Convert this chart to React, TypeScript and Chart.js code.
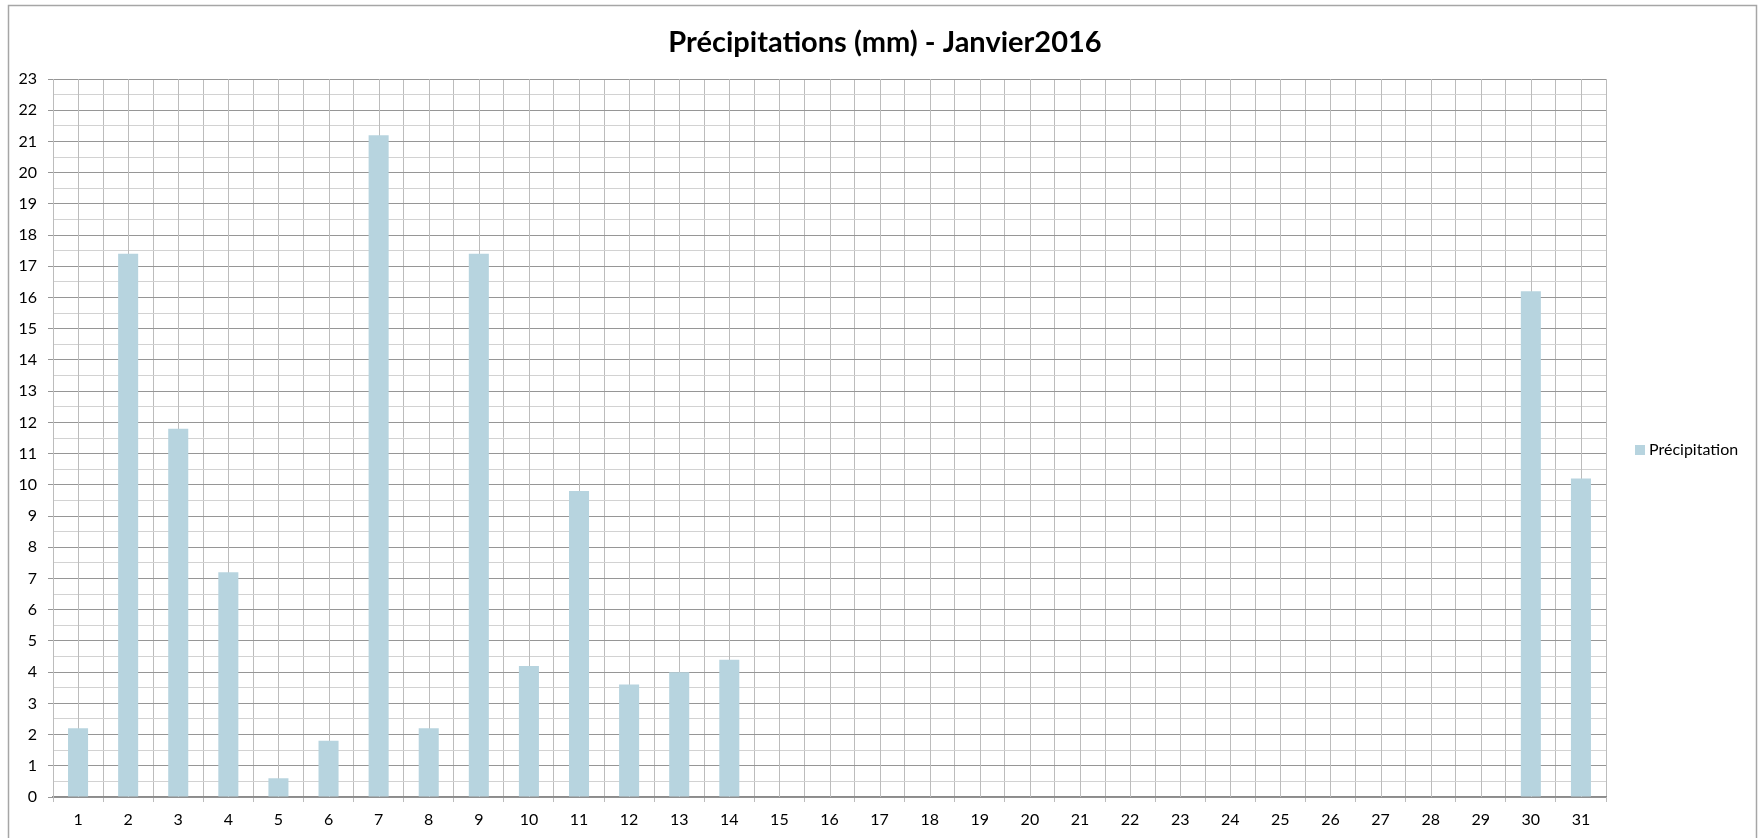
import React, { useEffect, useRef } from 'react';
import { Chart, registerables } from 'chart.js';

Chart.register(...registerables);

const TITLE = 'Précipitations (mm) - Janvier2016';
const SERIES_NAME = 'Précipitation';
const days = Array.from({ length: 31 }, (_, i) => String(i + 1));
const precipitation = [
  2.2, 17.4, 11.8, 7.2, 0.6, 1.8, 21.2, 2.2, 17.4, 4.2,
  9.8, 3.6, 4.0, 4.4, 0, 0, 0, 0, 0, 0,
  0, 0, 0, 0, 0, 0, 0, 0, 0, 16.2, 10.2,
];
const yMin = 0;
const yMax = 23;

const FONT = 'Lato, "Open Sans", "DejaVu Sans", sans-serif';
const BAR_COLOR = '#b7d4df';
const V_GRID = '#bcbcbc';
const H_MAJOR = '#969696';
const H_MINOR = '#d2d2d2';

const decorPlugin = {
  id: 'decor',
  beforeDraw(chart: any) {
    const { ctx, width, height } = chart;
    ctx.save();
    ctx.fillStyle = '#ffffff';
    ctx.fillRect(0, 0, width, height);
    ctx.strokeStyle = '#a6a6a6';
    ctx.lineWidth = 1.5;
    ctx.beginPath();
    ctx.moveTo(8.5, height + 2);
    ctx.lineTo(8.5, 5.5);
    ctx.lineTo(1756.5, 5.5);
    ctx.lineTo(1756.5, height + 2);
    ctx.stroke();
    ctx.restore();
  },
  beforeDatasetsDraw(chart: any) {
    const { ctx, chartArea } = chart;
    const xs = chart.scales.x;
    ctx.save();
    ctx.strokeStyle = V_GRID;
    ctx.lineWidth = 1;
    ctx.beginPath();
    for (let i = 0; i < days.length; i++) {
      const x = Math.round(xs.getPixelForValue(i)) + 0.5;
      ctx.moveTo(x, chartArea.top);
      ctx.lineTo(x, chartArea.bottom);
    }
    ctx.stroke();
    ctx.restore();
  },
  afterDraw(chart: any) {
    const { ctx } = chart;
    ctx.save();
    ctx.fillStyle = '#000000';
    ctx.font = `bold 29px ${FONT}`;
    ctx.textAlign = 'center';
    ctx.textBaseline = 'middle';
    ctx.fillText(TITLE, 885, 43);
    // legend
    ctx.fillStyle = BAR_COLOR;
    ctx.fillRect(1635, 445, 10, 10);
    ctx.fillStyle = '#000000';
    ctx.font = `16px ${FONT}`;
    ctx.textAlign = 'left';
    ctx.fillText(SERIES_NAME, 1649, 450);
    ctx.restore();
  },
};

export default function App() {
  const ref = useRef<HTMLCanvasElement | null>(null);
  useEffect(() => {
    document.body.style.margin = '0';
    document.body.style.overflow = 'hidden';
    const canvas = ref.current;
    if (!canvas) return;
    const chart = new Chart(canvas, {
      type: 'bar',
      data: {
        labels: days,
        datasets: [
          {
            label: SERIES_NAME,
            data: precipitation,
            backgroundColor: BAR_COLOR,
            borderWidth: 0,
            barPercentage: 0.8,
            categoryPercentage: 0.5,
          },
        ],
      },
      options: {
        responsive: false,
        animation: false,
        devicePixelRatio: 1,
        layout: { padding: { top: 79, right: 155, left: 0, bottom: 0 } },
        plugins: {
          legend: { display: false },
          title: { display: false },
          tooltip: { enabled: false },
        },
        scales: {
          x: {
            type: 'category',
            offset: true,
            grid: {
              offset: true,
              color: V_GRID,
              tickColor: V_GRID,
              tickLength: 5,
              lineWidth: 1,
            },
            border: { color: '#8c8c8c', width: 1.5 },
            ticks: {
              color: '#000000',
              font: { family: FONT, size: 16 },
              padding: 8,
              maxRotation: 0,
              autoSkip: false,
            },
            afterFit(scale: any) {
              scale.height = 41;
            },
          },
          y: {
            type: 'linear',
            min: yMin,
            max: yMax,
            grid: {
              color: (c: any) => (c.tick && c.tick.value % 1 === 0 ? H_MAJOR : H_MINOR),
              tickColor: (c: any) => (c.tick && c.tick.value % 1 === 0 ? H_MAJOR : 'rgba(0,0,0,0)'),
              tickLength: 5,
              lineWidth: 1,
            },
            border: { color: V_GRID, width: 1 },
            ticks: {
              stepSize: 0.5,
              autoSkip: false,
              color: '#000000',
              font: { family: FONT, size: 16 },
              padding: 11,
              callback: (v: any) => (Number(v) % 1 === 0 ? String(v) : ''),
            },
            afterFit(scale: any) {
              scale.width = 53;
            },
          },
        },
      },
      plugins: [decorPlugin],
    } as any);
    return () => chart.destroy();
  }, []);
  return (
    <div style={{ width: 1761, height: 838, position: 'relative' }}>
      <canvas ref={ref} width={1761} height={838} style={{ display: 'block' }} />
    </div>
  );
}
